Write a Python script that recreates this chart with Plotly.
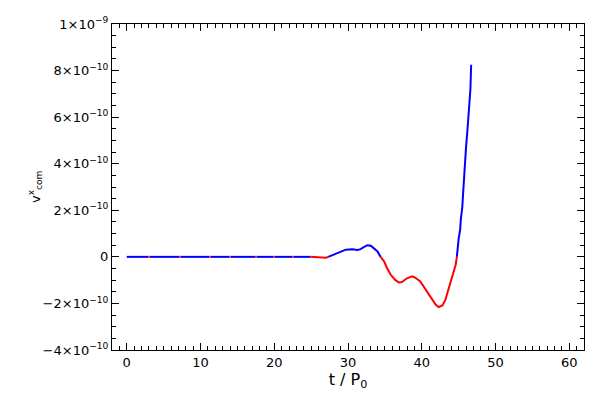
import plotly.graph_objects as go

# time in units of P0
t_vals = [0, 1.5, 3, 4.5, 6, 7.2, 8.5, 10, 11.3, 12.5, 14, 15, 16.2, 17.5, 18.8,
          20, 21.3, 22.5, 23.8, 24.8, 25.8,
          26.4, 27.0, 27.4, 27.9, 28.6, 29.2, 29.7, 30.6, 31.3, 31.7, 32.2, 32.6,
          33.1, 33.5, 34.0, 34.4, 34.9, 35.3, 35.8, 36.4, 36.9, 37.3, 38.0, 38.7,
          39.1, 39.8, 40.5, 41.2, 41.9, 42.3, 42.8, 43.2, 43.6, 44.1, 44.6, 44.8,
          44.9, 45.0, 45.2, 45.3, 45.5, 45.6, 45.7, 45.9, 46.0, 46.2, 46.4, 46.6, 46.7]
# v_com^x in units of 1e-10
v_vals = [0.0, 0.001, -0.00008, 0.001, 0.001, -0.00008, 0.001, 0.001, -0.00008, 0.001,
          -0.00008, 0.001, 0.001, -0.00008, 0.001, -0.00008, 0.001, -0.00008, 0.001, 0.001, -0.01,
          -0.04, -0.04, 0.01, 0.09, 0.18, 0.26, 0.31, 0.33, 0.30, 0.33, 0.41, 0.50,
          0.48, 0.37, 0.23, 0.01, -0.20, -0.49, -0.77, -0.99, -1.10, -1.08, -0.92, -0.84,
          -0.89, -1.06, -1.41, -1.77, -2.06, -2.16, -2.09, -1.85, -1.41, -0.91, -0.34, 0.09,
          0.44, 0.77, 1.16, 1.61, 2.14, 2.69, 3.27, 3.94, 4.68, 5.47, 6.33, 7.22, 8.25]

y_tickvals = [-4, -2, 0, 2, 4, 6, 8, 10]
y_ticktext = ["\u22124\u00d710<sup>\u221210</sup>", "\u22122\u00d710<sup>\u221210</sup>", "0",
              "2\u00d710<sup>\u221210</sup>", "4\u00d710<sup>\u221210</sup>",
              "6\u00d710<sup>\u221210</sup>", "8\u00d710<sup>\u221210</sup>",
              "1\u00d710<sup>\u22129</sup>"]
x_tickvals = [0, 10, 20, 30, 40, 50, 60]

# insert zero crossings so each sign segment can be coloured
pts = [(t_vals[0], v_vals[0])]
for i in range(1, len(t_vals)):
    t0, v0 = t_vals[i - 1], v_vals[i - 1]
    t1, v1 = t_vals[i], v_vals[i]
    if v0 * v1 < 0:
        tc = t0 + (t1 - t0) * (v0 / (v0 - v1))
        pts.append((tc, 0.0))
    pts.append((t1, v1))

tt = [p[0] for p in pts]
pos = [p[1] if p[1] >= 0 else None for p in pts]
neg = [p[1] if p[1] <= 0 else None for p in pts]

fig = go.Figure()
fig.add_trace(go.Scatter(x=tt, y=pos, mode="lines", line=dict(color="#0000ff", width=2),
                         connectgaps=False, showlegend=False))
fig.add_trace(go.Scatter(x=tt, y=neg, mode="lines", line=dict(color="#ff0000", width=2),
                         connectgaps=False, showlegend=False))

axis_common = dict(showgrid=False, zeroline=False, showline=True, linecolor="black",
                   linewidth=1, mirror="ticks", ticks="inside", tickcolor="black",
                   ticklen=7, tickwidth=1, automargin=False)

fig.update_xaxes(range=[-2, 62], tickvals=x_tickvals, **axis_common,
                 minor=dict(dtick=1, ticks="inside", ticklen=4, tickcolor="black", tickwidth=1),
                 title=dict(text="t / P<sub>0</sub>", standoff=0))
fig.update_yaxes(range=[-4, 10], tickvals=y_tickvals, ticktext=y_ticktext, **axis_common,
                 minor=dict(dtick=0.5, ticks="inside", ticklen=4, tickcolor="black", tickwidth=1))

fig.add_annotation(text="v<sup>x</sup><sub>com</sub>", xref="paper", yref="paper",
                   x=-0.163, y=0.5, xanchor="center", yanchor="middle", textangle=-90,
                   showarrow=False, font=dict(size=13))

fig.update_layout(width=600, height=400, plot_bgcolor="white", paper_bgcolor="white",
                  margin=dict(l=104, r=24, t=16, b=58),
                  font=dict(family="DejaVu Sans, sans-serif", size=13, color="black"))

fig.write_html("out.html")
